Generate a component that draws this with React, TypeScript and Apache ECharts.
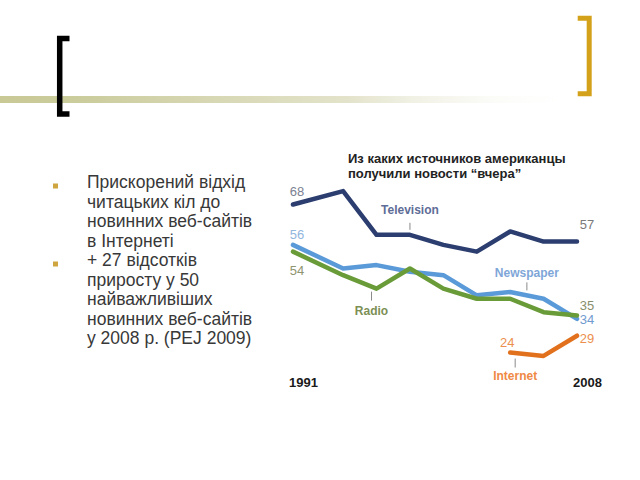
import React, { useEffect, useRef } from "react";
import * as echarts from "echarts";

// ---- data ----
const years = [1991, 1994, 1996, 1998, 2000, 2002, 2004, 2006, 2008];
const television = [68, 72, 59, 59, 56, 54, 60, 57, 57];
const newspaper = [56, 49, 50, 48, 47, 41, 42, 40, 34];
const radio = [54, 47, 43, 49, 43, 40, 40, 36, 35];
const internetYears = [2004, 2006, 2008];
const internet = [24, 23, 29];
const xTickLabels = [1991, 2008];
const titleLines = ["Из каких источников американцы", "получили новости “вчера”"];
const bulletItems = [
  ["Прискорений відхід", "читацьких кіл до", "новинних веб-сайтів", "в Інтернеті"],
  ["+ 27 відсотків", "приросту у 50", "найважливіших", "новинних веб-сайтів", "у 2008 р. (PEJ 2009)"],
];

const COLORS = {
  tv: "#2c3e70",
  news: "#5b9ad8",
  radio: "#6a9b39",
  internet: "#e2711d",
};

const zip = (xs: number[], ys: number[]) => xs.map((x, i) => [x, ys[i]]);

export default function App() {
  const ref = useRef<HTMLDivElement>(null);
  useEffect(() => {
    if (!ref.current) return;
    const chart = echarts.init(ref.current, undefined, { renderer: "svg" });
    const lineSeries = (name: string, data: number[][], color: string, z: number) => ({
      name,
      type: "line",
      data,
      showSymbol: false,
      symbol: "none",
      z,
      lineStyle: { color, width: 4.5, join: "round", cap: "round" },
    });
    chart.setOption({
      animation: false,
      backgroundColor: "#ffffff",
      grid: { left: 293, right: 63, top: 181, bottom: 114 },
      xAxis: {
        type: "value",
        min: 1991,
        max: 2008,
        axisLine: { show: false },
        axisTick: { show: false },
        splitLine: { show: false },
        axisLabel: {
          customValues: xTickLabels,
          showMinLabel: true,
          showMaxLabel: true,
          formatter: (v: number) => String(v),
          align: "left",
          margin: 10,
          fontFamily: "'Liberation Sans Narrow', 'Liberation Sans', Arial, sans-serif",
          fontWeight: "bold",
          fontSize: 13,
          color: "#1a1a1a",
          padding: [0, 0, 0, -4],
        },
      },
      yAxis: {
        type: "value",
        min: 20,
        max: 75,
        show: false,
      },
      series: [
        lineSeries("Newspaper", zip(years, newspaper), COLORS.news, 2),
        lineSeries("Radio", zip(years, radio), COLORS.radio, 3),
        lineSeries("Television", zip(years, television), COLORS.tv, 4),
        lineSeries("Internet", zip(internetYears, internet), COLORS.internet, 5),
      ],
    });

    const px = (x: number, y: number) => chart.convertToPixel({ gridIndex: 0 }, [x, y]) as number[];
    const numFont = "'Liberation Sans', Arial, sans-serif";

    const valueLabels = [
      { text: String(television[0]), at: [years[0], television[0]], dx: 4, dy: -13, color: "#7b8192" },
      { text: String(newspaper[0]), at: [years[0], newspaper[0]], dx: 4, dy: -10, color: "#92b6de" },
      { text: String(radio[0]), at: [years[0], radio[0]], dx: 4, dy: 19, color: "#8e9570" },
      { text: String(television[8]), at: [years[8], television[8]], dx: 10, dy: -17, color: "#7a7a7a" },
      { text: String(radio[8]), at: [years[8], radio[8]], dx: 10, dy: -10, color: "#878e6c" },
      { text: String(newspaper[8]), at: [years[8], newspaper[8]], dx: 10, dy: 1, color: "#6f9bd0" },
      { text: String(internet[2]), at: [internetYears[2], internet[2]], dx: 10, dy: 3, color: "#ec8f4e" },
      { text: String(internet[0]), at: [internetYears[0], internet[0]], dx: -3, dy: -10, color: "#ec8f4e" },
    ];

    const seriesLabels = [
      { text: "Television", at: [years[3], television[3]], dx: 0, textDy: -25, tick: [-12, -5], color: "#5e6d96" },
      { text: "Newspaper", at: [2005, (newspaper[6] + newspaper[7]) / 2], dx: 0, textDy: -22, tick: [-13, -5], color: "#7ea6d8" },
      { text: "Radio", at: [years[2], radio[2]], dx: -5, textDy: 22, tick: [3, 12], color: "#7c8f55" },
      { text: "Internet", at: [internetYears[0], internet[0]], dx: 5, textDy: 23, tick: [6, 15], color: "#ef8945" },
    ];

    const graphics: any[] = [];

    // slide decoration: gradient band
    graphics.push({
      type: "rect",
      shape: { x: 0, y: 96, width: 580, height: 7 },
      style: {
        fill: new echarts.graphic.LinearGradient(0, 0, 1, 0, [
          { offset: 0, color: "#c8c995" },
          { offset: 0.15, color: "#cccd9e" },
          { offset: 0.6, color: "#e3e3cb" },
          { offset: 1, color: "rgba(255,255,255,0)" },
        ]),
      },
      z: 1,
    });
    // brackets
    graphics.push({
      type: "polyline",
      shape: { points: [[69.5, 38.5], [59.7, 38.5], [59.7, 114], [69.5, 114]] },
      style: { stroke: "#000000", lineWidth: 5.5, fill: null, lineJoin: "miter" },
      z: 2,
    });
    graphics.push({
      type: "polyline",
      shape: { points: [[577.7, 18.3], [589.2, 18.3], [589.2, 93.7], [577.7, 93.7]] },
      style: { stroke: "#d4a21a", lineWidth: 5, fill: null, lineJoin: "miter" },
      z: 2,
    });

    // bullets
    const lineH = 19.5;
    let firstLineY = 182;
    bulletItems.forEach((lines) => {
      graphics.push({
        type: "rect",
        shape: { x: 53, y: firstLineY + 1.5, width: 5, height: 5 },
        style: { fill: "#cfa53f" },
      });
      graphics.push({
        type: "text",
        x: 87,
        y: firstLineY - lineH / 2,
        style: {
          text: lines.join("\n"),
          fill: "#383838",
          font: "17.5px 'Liberation Sans', Arial, sans-serif",
          lineHeight: lineH,
          verticalAlign: "top",
          align: "left",
        },
      });
      firstLineY += lines.length * lineH;
    });

    // chart title
    graphics.push({
      type: "text",
      x: 348,
      y: 150.5,
      style: {
        text: titleLines.join("\n"),
        fill: "#222222",
        font: "bold 13px 'Liberation Sans', Arial, sans-serif",
        lineHeight: 15,
        verticalAlign: "top",
        align: "left",
      },
    });

    valueLabels.forEach((l) => {
      const [x, y] = px(l.at[0], l.at[1]);
      graphics.push({
        type: "text",
        x: x + l.dx,
        y: y + l.dy,
        style: {
          text: l.text,
          fill: l.color,
          font: `13px ${numFont}`,
          align: "center",
          verticalAlign: "middle",
        },
        z: 10,
      });
    });

    seriesLabels.forEach((l) => {
      const [x0, y] = px(l.at[0], l.at[1]);
      const x = x0 + l.dx;
      graphics.push({
        type: "line",
        shape: { x1: x, y1: y + l.tick[0], x2: x, y2: y + l.tick[1] },
        style: { stroke: "#8a8a8a", lineWidth: 1 },
        z: 10,
      });
      graphics.push({
        type: "text",
        x,
        y: y + l.textDy,
        style: {
          text: l.text,
          fill: l.color,
          font: `bold 12px ${numFont}`,
          align: "center",
          verticalAlign: "middle",
        },
        z: 10,
      });
    });

    chart.setOption({ graphic: graphics });
    return () => chart.dispose();
  }, []);

  return (
    <div
      ref={ref}
      style={{ position: "absolute", left: 0, top: 0, width: 640, height: 480 }}
    />
  );
}
